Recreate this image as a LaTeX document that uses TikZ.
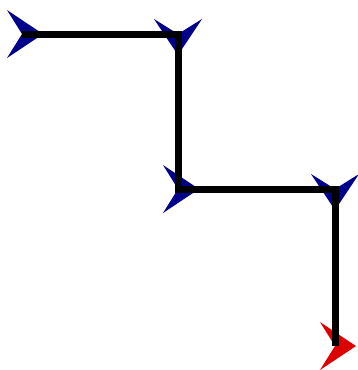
\documentclass[tikz,border=0pt]{standalone}
\definecolor{tipblue}{RGB}{0,0,139}
\definecolor{tipred}{RGB}{221,0,0}
\tikzset{
  veehead/.pic={\fill[pic actions] (0,0) -- (-15,24) -- (21,0) -- (-15,-24) -- cycle;},
  stair/.style={line width=7pt, line join=miter, black},
}
\begin{document}
\begin{tikzpicture}[x=1pt, y=-1pt]

  % --- cornice ---
  \useasboundingbox (0,0) rectangle (358,370);

  % --- vertici del percorso ---
  \coordinate (p0) at (22,34);
  \coordinate (p1) at (178,34);
  \coordinate (p2) at (178,189);
  \coordinate (p3) at (335,189);
  \coordinate (p4) at (335,346);

  % --- punte blu (una per tratto) ---
  \pic[fill=tipblue] at (p0) {veehead};
  \pic[fill=tipblue, rotate=-90] at (p1) {veehead};
  \pic[fill=tipblue] at (p2) {veehead};
  \pic[fill=tipblue, rotate=-90] at (p3) {veehead};

  % --- punta rossa finale ---
  \pic[fill=tipred] at (p4) {veehead};

  % --- scala ---
  \draw[stair] (p0) -- (p1) -- (p2) -- (p3) -- (p4);

\end{tikzpicture}
\end{document}
